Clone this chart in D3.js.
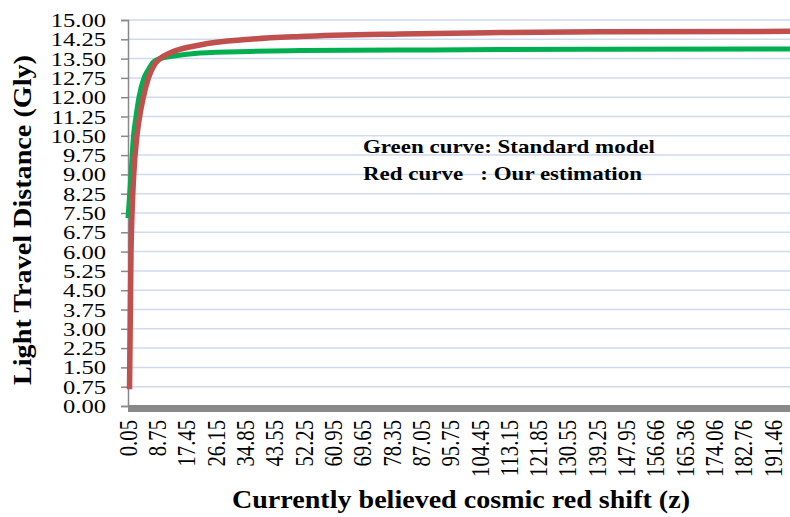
<!DOCTYPE html>
<html><head><meta charset="utf-8">
<script src="https://cdn.jsdelivr.net/npm/d3@7"></script>
<style>body{margin:0;background:#fff}svg{display:block}text{font-family:"Liberation Serif","Times New Roman",serif}</style>
</head><body>
<svg id="c" width="790" height="517"></svg>
<script>
const xTickLabels = ["0.05","8.75","17.45","26.15","34.85","43.55","52.25","60.95","69.65","78.35","87.05","95.75","104.45","113.15","121.85","130.55","139.25","147.95","156.66","165.36","174.06","182.76","191.46"];
const yTicks = d3.range(0, 21).map(i => i * 0.75);
const greenZ = [0.05, 0.94, 1.68, 2.42, 3.31, 4.8, 6.0, 7.47, 9.55, 12.5, 21.4, 36.2, 51.1, 80.8, 110.4, 140, 196.5];
const greenV = [7.3, 9.0, 10.5, 11.25, 12.0, 12.75, 13.05, 13.35, 13.5, 13.58, 13.72, 13.78, 13.81, 13.83, 13.85, 13.86, 13.87];
const redZ = [0.5, 0.94, 1.24, 1.75, 2.7, 3.5, 4.6, 6.1, 8.06, 9.55, 12.5, 21.4, 36.2, 51.1, 80.8, 110.4, 140, 196.5];
const redV = [0.65, 6.0, 7.5, 9.0, 10.5, 11.25, 12.0, 12.75, 13.3, 13.5, 13.72, 14.03, 14.25, 14.36, 14.46, 14.51, 14.54, 14.56];

const svg = d3.select("#c");
const x = d3.scaleLinear().domain([0.05, 191.46]).range([128, 773]);
const y = d3.scaleLinear().domain([0, 15]).range([406, 20]);

// gridlines
svg.append("g").selectAll("line").data(yTicks.filter(v => v > 0)).join("line")
  .attr("x1", 128).attr("x2", 790).attr("y1", d => y(d)).attr("y2", d => y(d))
  .attr("stroke", "#cfd9ef").attr("stroke-width", 1.5);

// y axis
const yAxis = d3.axisLeft(y).tickValues(yTicks).tickSize(7).tickFormat(d3.format(".2f"));
const ga = svg.append("g").attr("transform", "translate(128,0)").call(yAxis);
ga.select(".domain").attr("stroke", "#888").attr("stroke-width", 1.5);
ga.selectAll(".tick line").attr("stroke", "#888").attr("stroke-width", 1.5);
ga.selectAll(".tick text").attr("x", 0).attr("dy", 0).attr("y", 0)
  .attr("font-size", 18.5).attr("fill", "#000").attr("text-anchor", "end")
  .attr("font-family", "Liberation Serif, Times New Roman, serif")
  .attr("transform", "translate(-22,6.5) scale(1.33,1)");

// lines
const line = d3.line().x(d => x(d[0])).y(d => y(d[1])).curve(d3.curveMonotoneX);
svg.append("path").datum(greenZ.map((z, i) => [z, greenV[i]]))
  .attr("d", line).attr("fill", "none").attr("stroke", "#00b050").attr("stroke-width", 5);
svg.append("path").datum(redZ.map((z, i) => [z, redV[i]]))
  .attr("d", line).attr("fill", "none").attr("stroke", "#c0504d").attr("stroke-width", 5.5);

// x axis band
svg.append("rect").attr("x", 128).attr("y", 405).attr("width", 790 - 128).attr("height", 7).attr("fill", "#898989");

// x tick labels
svg.append("g").selectAll("text").data(xTickLabels).join("text")
  .attr("transform", d => `translate(${x(+d)},420) scale(1.2,1) rotate(-90)`)
  .attr("text-anchor", "end").attr("dy", "0.35em").attr("font-size", 20.7).text(d => d);

// axis titles
svg.append("text").attr("transform", "translate(31,220) rotate(-90)")
  .attr("text-anchor", "middle").attr("font-weight", "bold").attr("font-size", 24.5)
  .attr("textLength", 330).attr("lengthAdjust", "spacingAndGlyphs")
  .text("Light Travel Distance (Gly)");
svg.append("text").attr("x", 232).attr("y", 508)
  .attr("font-weight", "bold").attr("font-size", 25)
  .attr("textLength", 458).attr("lengthAdjust", "spacingAndGlyphs")
  .text("Currently believed cosmic red shift (z)");

// annotation
svg.append("text").attr("x", 363).attr("y", 153).attr("font-weight", "bold").attr("font-size", 19)
  .attr("textLength", 292).attr("lengthAdjust", "spacingAndGlyphs")
  .text("Green curve: Standard model");
svg.append("text").attr("x", 363).attr("y", 180).attr("font-weight", "bold").attr("font-size", 19)
  .attr("textLength", 279).attr("lengthAdjust", "spacingAndGlyphs")
  .style("white-space", "pre").text("Red curve   : Our estimation");
</script>
</body></html>
